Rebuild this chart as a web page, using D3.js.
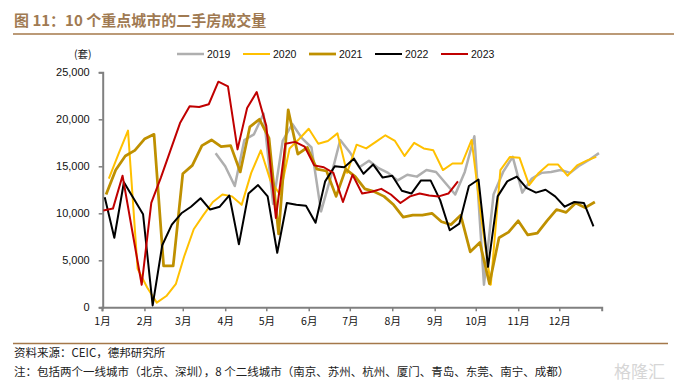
<!DOCTYPE html>
<html><head><meta charset="utf-8">
<script src="https://cdn.jsdelivr.net/npm/d3@7"></script>
<style>
html,body{margin:0;padding:0;background:#fff;}
svg{display:block;}
</style></head>
<body>
<svg id="chart" width="688" height="386"></svg>
<script>
// ---- data ----
const monthLabels = ["1月","2月","3月","4月","5月","6月","7月","8月","9月","10月","11月","12月"];
const yTickValues = [0, 5000, 10000, 15000, 20000, 25000];
const seriesNames = ["2019","2020","2021","2022","2023"];
const seriesStarts = ["2019-03-25","2020-01-06","2021-01-04","2022-01-03","2023-01-02"]; // first weekly date (Mondays)
const values2019 = [16400,15000,12900,17800,18400,20600,11000,17700,19500,18000,17000,10200,13800,17800,16500,14900,15600,14800,14300,13500,14100,13900,14600,14400,13200,12000,14400,18200,2400,12000,14400,16000,12200,13700,14300,14400,14600,14300,15100,15700,16400];
const values2020 = [13700,16300,18800,4100,2100,500,1200,2500,5400,8300,9800,11200,12000,11800,10900,14300,16700,13500,12000,16900,17900,19000,17400,17700,18500,14300,17300,16900,17600,18300,17700,16100,17500,16900,16700,14600,15300,15300,17800,9500,2400,14600,16000,15900,13000,14300,15200,15200,14000,15100,15600,16000];
const values2021 = [12000,14600,16100,16700,17900,18400,4400,4400,14200,15100,17200,17800,17100,17200,14400,19200,20000,18000,7800,21000,16300,17000,14700,14500,11800,14700,13900,12600,12300,11800,10900,9600,9800,9800,10000,9100,8800,9800,5900,6900,2500,7400,8000,9200,7700,7900,9200,10400,10100,11100,10600,11200];
const values2022 = [11700,7400,13300,11600,9900,200,6600,8800,10000,10700,11600,10400,10700,11900,6700,12100,13000,11800,5800,11100,10900,10800,9000,13400,15000,14900,15800,14200,15200,13800,14000,12400,12100,13500,13500,11400,8200,8900,12900,13600,4300,11800,13400,13900,12700,12200,12500,11800,10700,11200,11100,8600];
const values2023 = [10300,10500,14000,8200,2400,11100,13800,16700,19600,21400,21300,21600,24000,23500,16800,21200,22900,19300,9500,17400,17600,17100,15100,14900,14300,11200,14100,12100,12300,12600,12000,11100,11800,12100,11900,11800,12100,13400];
const seriesValues = [values2019, values2020, values2021, values2022, values2023];
const seriesColors = ["#AFAFAF","#FFC000","#BF9000","#000000","#C00000"];
const seriesWidths = [2.5, 2, 2.75, 2, 2];

// ---- chart ----
const svg = d3.select("#chart");
svg.append("rect").attr("width",688).attr("height",386).attr("fill","#fff");

const refYear = 2019;
const x = d3.scaleTime()
  .domain([new Date(refYear,0,1), new Date(refYear+1,0,1)])
  .range([102, 601.7]);
const y = d3.scaleLinear().domain([0, 25000]).range([307.3, 72.3]);

const parse = d3.timeParse("%Y-%m-%d");
function toRef(d){ return new Date(refYear, d.getMonth(), d.getDate()); }

// title
svg.append("text").attr("x",14).attr("y",26)
  .attr("font-family","'Noto Sans CJK SC', sans-serif").attr("font-weight","bold")
  .attr("font-size",15).attr("fill","#A07A52")
  .text("图 11：10 个重点城市的二手房成交量");
svg.append("line").attr("x1",13).attr("x2",674).attr("y1",34).attr("y2",34)
  .attr("stroke","#A4784A").attr("stroke-width",1.3);

// unit
svg.append("text").attr("x",74).attr("y",58)
  .attr("font-family","'Noto Sans CJK SC', sans-serif").attr("font-size",10.5).attr("fill","#222")
  .text("(套)");

// legend
const legend = svg.append("g");
seriesNames.forEach((n,i)=>{
  const lx = 177 + i*66;
  legend.append("line").attr("x1",lx).attr("x2",lx+27).attr("y1",54).attr("y2",54)
    .attr("stroke",seriesColors[i]).attr("stroke-width",seriesWidths[i]);
  legend.append("text").attr("x",lx+30).attr("y",58)
    .attr("font-family","'Liberation Sans', Arial, sans-serif").attr("font-size",10.5).attr("fill","#111")
    .text(n);
});

// y axis
const yAxis = d3.axisLeft(y).tickValues(yTickValues).tickSize(4).tickPadding(9)
  .tickFormat(d3.format(","));
const gy = svg.append("g").attr("transform","translate(102.7,0)").call(yAxis);
gy.select(".domain").attr("stroke","#808080").attr("stroke-width",2);
gy.selectAll(".tick line").attr("stroke","#808080").attr("stroke-width",1.5);
gy.selectAll(".tick text").attr("font-family","'Liberation Sans', Arial, sans-serif")
  .attr("font-size",11).attr("fill","#111");

// x axis
const monthDates = d3.range(12).map(m=>new Date(refYear,m,1));
const xAxis = d3.axisBottom(x).tickValues(monthDates).tickSize(4).tickPadding(6)
  .tickFormat((d,i)=>monthLabels[i]);
const gx = svg.append("g").attr("transform","translate(0,307.3)").call(xAxis);
gx.select(".domain").attr("stroke","#808080").attr("stroke-width",2);
gx.selectAll(".tick line").attr("stroke","#808080").attr("stroke-width",1.5);
gx.selectAll(".tick text").attr("font-family","'Noto Sans CJK SC', sans-serif")
  .attr("font-size",10.5).attr("fill","#111");

// lines
const line = d3.line().x(d=>x(d.date)).y(d=>y(d.value));
seriesNames.forEach((n,i)=>{
  const start = parse(seriesStarts[i]);
  const pts = seriesValues[i].map((v,k)=>({date: toRef(d3.timeDay.offset(start, 7*k)), value: v}));
  svg.append("path").datum(pts).attr("d",line)
    .attr("fill","none").attr("stroke",seriesColors[i]).attr("stroke-width",seriesWidths[i])
    .attr("stroke-linejoin","round");
});

// footer
svg.append("line").attr("x1",13).attr("x2",668).attr("y1",343.5).attr("y2",343.5)
  .attr("stroke","#A4784A").attr("stroke-width",1.3);
svg.append("text").attr("x",14).attr("y",357)
  .attr("font-family","'Noto Sans CJK SC', sans-serif").attr("font-size",11.5).attr("fill","#222")
  .text("资料来源：CEIC，德邦研究所");
svg.append("text").attr("x",14).attr("y",376)
  .attr("font-family","'Noto Sans CJK SC', sans-serif").attr("font-size",11.5).attr("fill","#222")
  .text("注：包括两个一线城市（北京、深圳），8 个二线城市（南京、苏州、杭州、厦门、青岛、东莞、南宁、成都）");
svg.append("text").attr("x",614).attr("y",378)
  .attr("font-family","'Noto Sans CJK SC', sans-serif").attr("font-size",17).attr("fill","#d6d6d6")
  .text("格隆汇");
</script>
</body></html>
